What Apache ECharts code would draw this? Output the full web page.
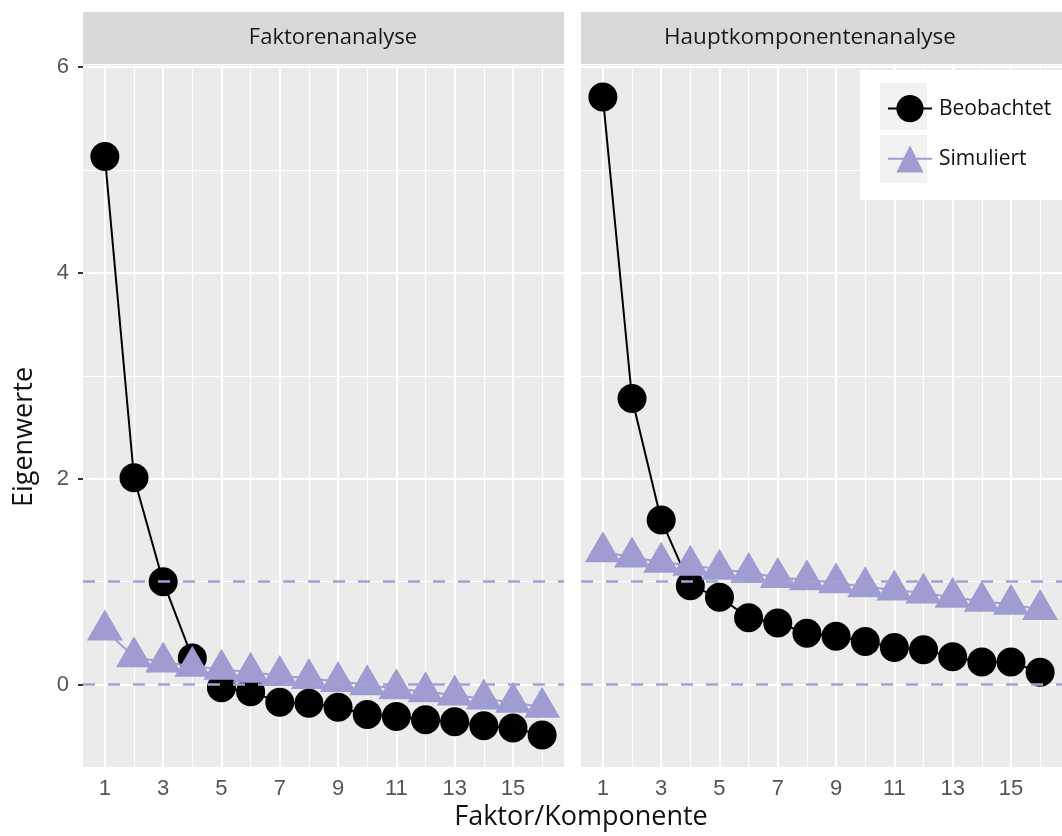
<!DOCTYPE html>
<html><head><meta charset="utf-8">
<script src="https://cdn.jsdelivr.net/npm/echarts@6/dist/echarts.min.js"></script>
<style>html,body{margin:0;padding:0;background:#fff}#c{width:1062px;height:836px}</style>
</head><body><div id="c"></div>
<script>
// ---- data ----
const factors = [1,2,3,4,5,6,7,8,9,10,11,12,13,14,15,16];
const faBeob  = [5.13, 2.01, 1.00, 0.26, -0.03, -0.07, -0.17, -0.18, -0.22, -0.29, -0.31, -0.34, -0.36, -0.40, -0.42, -0.49];
const faSim   = [0.53, 0.27, 0.22, 0.18, 0.15, 0.12, 0.09, 0.06, 0.03, 0.00, -0.04, -0.07, -0.10, -0.14, -0.17, -0.22];
const pcaBeob = [5.71, 2.78, 1.60, 0.96, 0.85, 0.65, 0.60, 0.50, 0.47, 0.42, 0.36, 0.34, 0.27, 0.22, 0.22, 0.12];
const pcaSim  = [1.29, 1.24, 1.19, 1.16, 1.12, 1.09, 1.04, 1.02, 0.99, 0.95, 0.92, 0.89, 0.85, 0.81, 0.78, 0.73];
const xTicks = [1,3,5,7,9,11,13,15];
const xMinor = [2,4,6,8,10,12,14,16];
const yTicks = [0,2,4,6];
const yMinor = [1,3,5];
const refLines = [0,1];
const panelTitles = ['Faktorenanalyse','Hauptkomponentenanalyse'];
const seriesNames = ['Beobachtet','Simuliert'];
const xTitle = 'Faktor/Komponente';
const yTitle = 'Eigenwerte';

// ---- style ----
const SIM = '#9e9cd1';
const REF = '#a3a1d6';
const TXT = 'Open Sans';
const NUM = 'Liberation Sans';

const grids = [
  {left:83, top:65, width:481, height:702, show:true, backgroundColor:'#ebebeb', borderWidth:0},
  {left:581, top:65, width:483, height:702, show:true, backgroundColor:'#ebebeb', borderWidth:0}
];

function xAxis(i){
  return {gridIndex:i, type:'value', min:0.25, max:16.75,
    axisLine:{show:false}, splitLine:{show:false},
    axisTick:{show:true, customValues:xTicks, length:6, lineStyle:{color:'#333', width:2}},
    axisLabel:{customValues:xTicks, fontSize:22, color:'#555', fontFamily:NUM, margin:11}};
}
function yAxis(i){
  return {gridIndex:i, type:'value', min:-0.8, max:6.02,
    axisLine:{show:false}, splitLine:{show:false},
    axisTick:{show:i===0, customValues:yTicks, length:5, lineStyle:{color:'#333', width:2}},
    axisLabel:{show:i===0, customValues:yTicks, fontSize:22, color:'#555', fontFamily:NUM, margin:14}};
}
function gridMarks(){
  const d = [];
  xTicks.forEach(v=>d.push({xAxis:v, lineStyle:{color:'#fff', width:2.2, type:'solid'}}));
  xMinor.forEach(v=>d.push({xAxis:v, lineStyle:{color:'#fff', width:1.2, type:'solid'}}));
  yTicks.forEach(v=>d.push({yAxis:v, lineStyle:{color:'#fff', width:2.2, type:'solid'}}));
  yMinor.forEach(v=>d.push({yAxis:v, lineStyle:{color:'#fff', width:1.2, type:'solid'}}));
  return {silent:true, symbol:['none','none'], z:1, label:{show:false}, emphasis:{disabled:true}, animation:false, data:d};
}
function refMarks(){
  return {silent:true, symbol:['none','none'], z:10, label:{show:false}, emphasis:{disabled:true}, animation:false,
    lineStyle:{color:REF, width:2.5, type:[12,13]},
    data: refLines.map(v=>({yAxis:v}))};
}
function beob(i, vals){
  return {name:seriesNames[0], type:'line', xAxisIndex:i, yAxisIndex:i,
    data: factors.map((x,k)=>[x, vals[k]]),
    symbol:'circle', symbolSize:29, itemStyle:{color:'#000'},
    lineStyle:{color:'#000', width:2}, z:3, emphasis:{disabled:true},
    markLine: gridMarks()};
}
function sim(i, vals){
  return {name:seriesNames[1], type:'line', xAxisIndex:i, yAxisIndex:i,
    data: factors.map((x,k)=>[x, vals[k]]),
    symbol:'triangle', symbolSize:[36,31], symbolOffset:[0,-5], itemStyle:{color:SIM},
    lineStyle:{color:SIM, width:2}, z:4, emphasis:{disabled:true},
    markLine: refMarks()};
}

const chart = echarts.init(document.getElementById('c'));
chart.setOption({
  animation:false,
  backgroundColor:'#fff',
  grid: grids,
  xAxis: [xAxis(0), xAxis(1)],
  yAxis: [yAxis(0), yAxis(1)],
  legend: {data:seriesNames, orient:'vertical', left:882, top:90, itemWidth:44, itemHeight:34, itemGap:23,
    selectedMode:false, z:20,
    textStyle:{fontSize:21, fontFamily:TXT, color:'#111', padding:[0,0,0,2]}},
  graphic: [
    {type:'rect', shape:{x:83, y:12, width:481, height:52}, style:{fill:'#d9d9d9'}, z:5, silent:true},
    {type:'rect', shape:{x:581, y:12, width:483, height:52}, style:{fill:'#d9d9d9'}, z:5, silent:true},
    {type:'text', x:333, y:38, style:{text:panelTitles[0], fontSize:22, fontFamily:TXT, fill:'#1a1a1a', align:'center', verticalAlign:'middle'}, z:6, silent:true},
    {type:'text', x:810, y:38, style:{text:panelTitles[1], fontSize:22.5, fontFamily:TXT, fill:'#1a1a1a', align:'center', verticalAlign:'middle'}, z:6, silent:true},
    {type:'text', x:581, y:817, style:{text:xTitle, fontSize:27, fontFamily:TXT, fill:'#111', align:'center', verticalAlign:'middle'}, z:6, silent:true},
    {type:'text', x:24, y:437, rotation:Math.PI/2, style:{text:yTitle, fontSize:27, fontFamily:TXT, fill:'#111', align:'center', verticalAlign:'middle'}, z:6, silent:true},
    {type:'rect', shape:{x:860, y:70, width:210, height:130}, style:{fill:'#fff'}, z:15, silent:true},
    {type:'rect', shape:{x:880, y:83, width:47, height:47}, style:{fill:'#f2f2f2'}, z:16, silent:true},
    {type:'rect', shape:{x:880, y:135, width:47, height:48}, style:{fill:'#f2f2f2'}, z:16, silent:true}
  ],
  series: [beob(0, faBeob), sim(0, faSim), beob(1, pcaBeob), sim(1, pcaSim)]
});
</script></body></html>
